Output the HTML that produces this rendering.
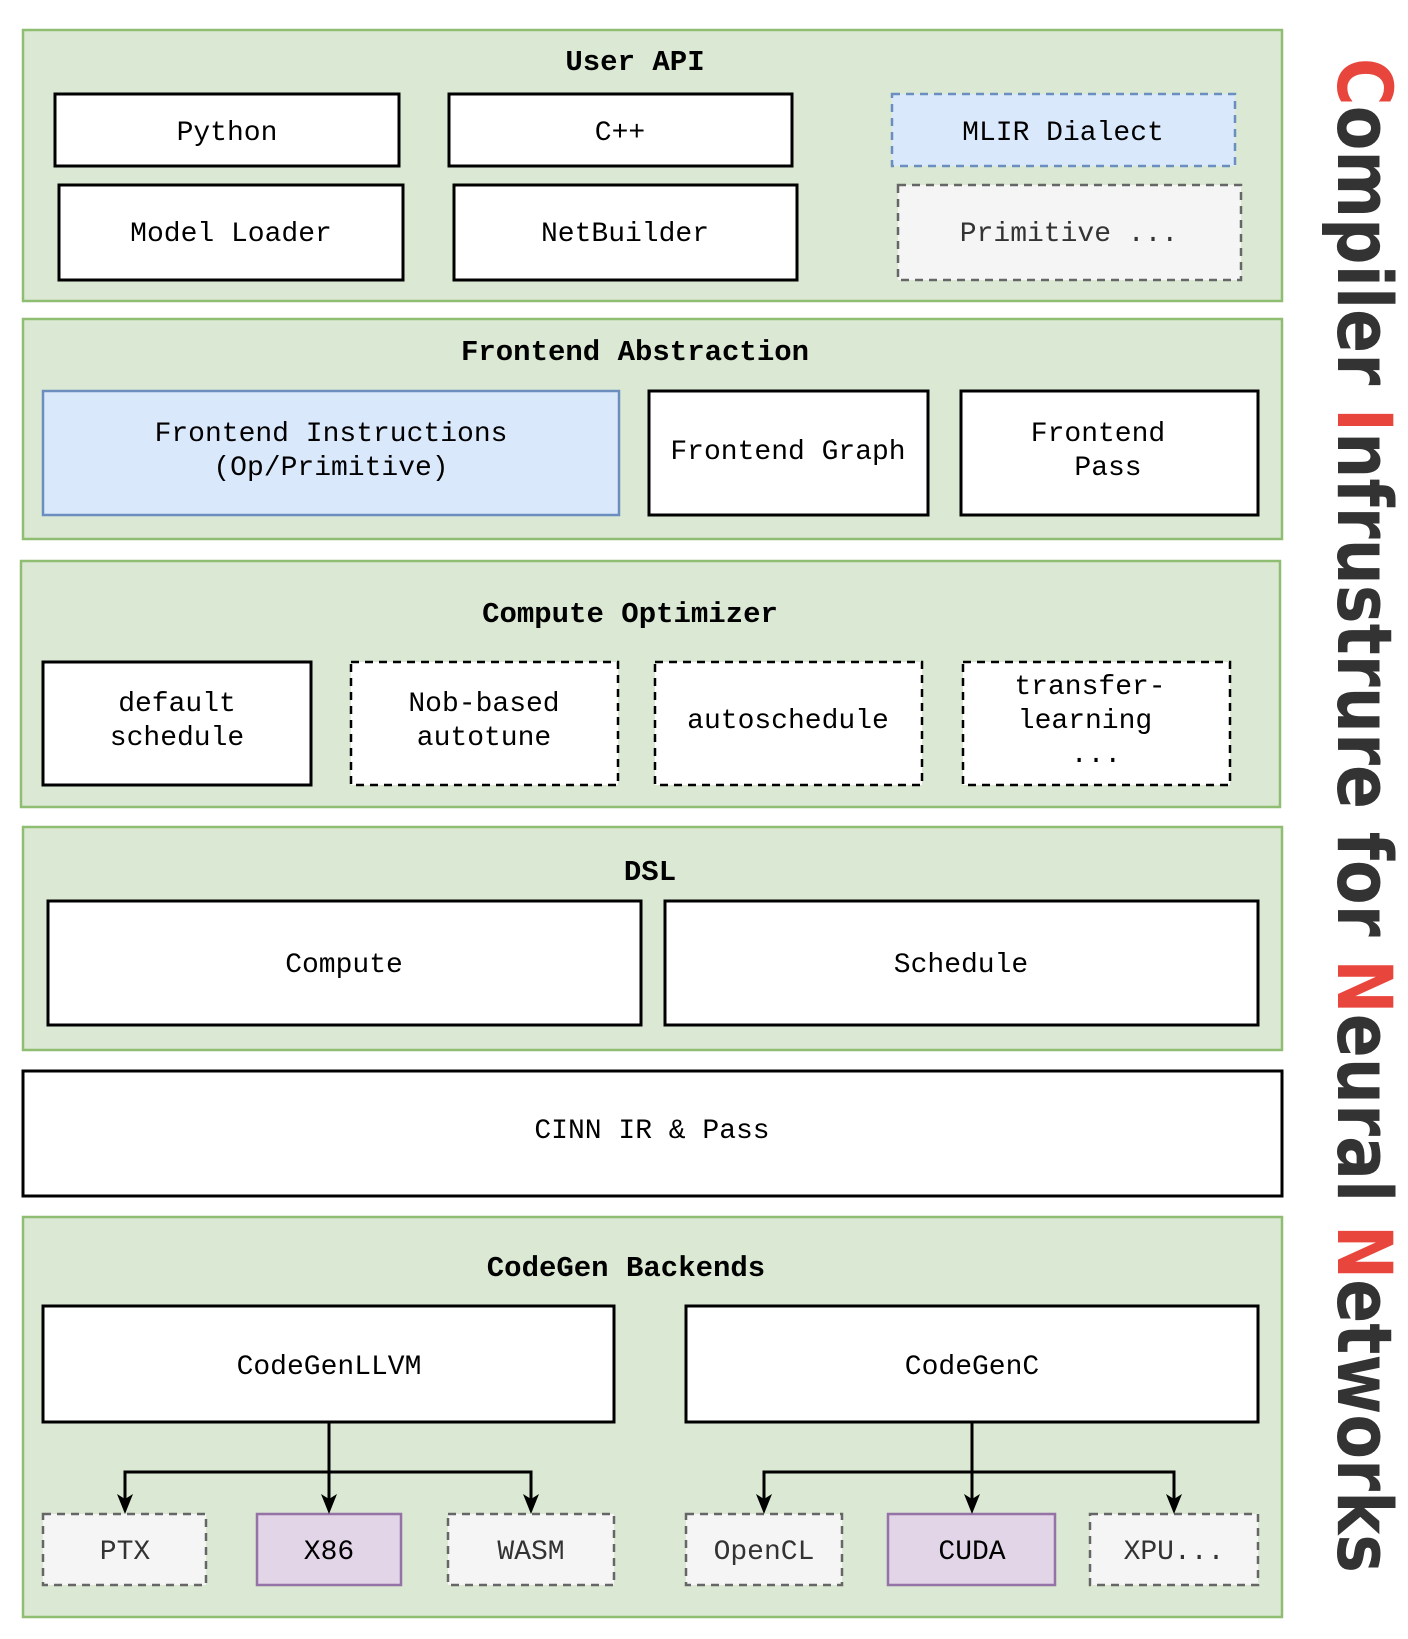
<!DOCTYPE html>
<html><head><meta charset="utf-8"><style>html,body{margin:0;padding:0;background:#fff}</style></head>
<body>
<svg width="1408" height="1634" viewBox="0 0 1408 1634" xmlns="http://www.w3.org/2000/svg" font-family="'Liberation Mono', monospace">
<g stroke-width="2.5">
<!-- panels -->
<rect x="23" y="30" width="1259" height="271" fill="#dae8d4" stroke="#8fbd72"/>
<rect x="23" y="319" width="1259" height="220" fill="#dae8d4" stroke="#8fbd72"/>
<rect x="21" y="561" width="1259" height="246" fill="#dae8d4" stroke="#8fbd72"/>
<rect x="23" y="827" width="1259" height="223" fill="#dae8d4" stroke="#8fbd72"/>
<rect x="23" y="1071" width="1259" height="125" fill="#fff" stroke="#000" stroke-width="3"/>
<rect x="23" y="1217" width="1259" height="400" fill="#dae8d4" stroke="#8fbd72"/>
<!-- user api -->
<g fill="#fff" stroke="#000" stroke-width="3">
<rect x="55" y="94" width="344" height="72"/>
<rect x="449" y="94" width="343" height="72"/>
<rect x="59" y="185" width="344" height="95"/>
<rect x="454" y="185" width="343" height="95"/>
<rect x="649" y="391" width="279" height="124"/>
<rect x="961" y="391" width="297" height="124"/>
<rect x="43" y="662" width="268" height="123"/>
<rect x="48" y="901" width="593" height="124"/>
<rect x="665" y="901" width="593" height="124"/>
<rect x="43" y="1306" width="571" height="116"/>
<rect x="686" y="1306" width="572" height="116"/>
</g>
<rect x="892" y="94" width="343" height="72" fill="#dae8fc" stroke="#6c8ebf" stroke-dasharray="8,6"/>
<rect x="898" y="185" width="343" height="95" fill="#f5f5f5" stroke="#666" stroke-dasharray="8,6"/>
<rect x="43" y="391" width="576" height="124" fill="#dae8fc" stroke="#6c8ebf"/>
<g fill="#fff" stroke="#000" stroke-dasharray="8,6">
<rect x="351" y="662" width="267" height="123"/>
<rect x="655" y="662" width="267" height="123"/>
<rect x="963" y="662" width="267" height="123"/>
</g>
<g fill="#f5f5f5" stroke="#666" stroke-dasharray="8,6">
<rect x="43" y="1514" width="163" height="71"/>
<rect x="448" y="1514" width="166" height="71"/>
<rect x="686" y="1514" width="156" height="71"/>
<rect x="1090" y="1514" width="168" height="71"/>
</g>
<rect x="257" y="1514" width="144" height="71" fill="#e1d5e7" stroke="#9673a6"/>
<rect x="888" y="1514" width="167" height="71" fill="#e1d5e7" stroke="#9673a6"/>
<!-- connectors -->
<g stroke="#000" stroke-width="3" fill="none">
<path d="M329 1422V1500M125 1500V1472H531V1500"/>
<path d="M972 1422V1500M764 1500V1472H1174V1500"/>
</g>
<g fill="#000">
<path d="M117 1494L125 1514L133 1494L125 1499Z"/>
<path d="M321 1494L329 1514L337 1494L329 1499Z"/>
<path d="M523 1494L531 1514L539 1494L531 1499Z"/>
<path d="M756 1494L764 1514L772 1494L764 1499Z"/>
<path d="M964 1494L972 1514L980 1494L972 1499Z"/>
<path d="M1166 1494L1174 1514L1182 1494L1174 1499Z"/>
</g>
</g>
<g font-size="28" text-anchor="middle" fill="#000">
<g font-weight="bold" font-size="29">
<text x="635" y="70">User API</text>
<text x="635" y="360">Frontend Abstraction</text>
<text x="630" y="622">Compute Optimizer</text>
<text x="650" y="880">DSL</text>
<text x="626" y="1276">CodeGen Backends</text>
</g>
<text x="227" y="140">Python</text>
<text x="620" y="140">C++</text>
<text x="1063" y="140">MLIR Dialect</text>
<text x="231" y="241">Model Loader</text>
<text x="625" y="241">NetBuilder</text>
<text x="1069" y="241" fill="#333">Primitive ...</text>
<text x="331" y="441">Frontend Instructions</text>
<text x="331" y="475">(Op/Primitive)</text>
<text x="788" y="459">Frontend Graph</text>
<text x="1098" y="441">Frontend</text>
<text x="1108" y="475">Pass</text>
<text x="177" y="711">default</text>
<text x="177" y="745">schedule</text>
<text x="484" y="711">Nob-based</text>
<text x="484" y="745">autotune</text>
<text x="788" y="728">autoschedule</text>
<text x="1090" y="694">transfer-</text>
<text x="1085" y="728">learning</text>
<text x="1096" y="762">...</text>
<text x="344" y="972">Compute</text>
<text x="961" y="972">Schedule</text>
<text x="652" y="1138">CINN IR &amp; Pass</text>
<text x="329" y="1374">CodeGenLLVM</text>
<text x="972" y="1374">CodeGenC</text>
<text x="125" y="1559" fill="#333">PTX</text>
<text x="329" y="1559">X86</text>
<text x="531" y="1559" fill="#333">WASM</text>
<text x="764" y="1559" fill="#333">OpenCL</text>
<text x="972" y="1559">CUDA</text>
<text x="1174" y="1559" fill="#333">XPU...</text>
</g>
<text transform="translate(1338,58) rotate(90)" font-family="'DejaVu Sans', sans-serif" font-weight="bold" font-size="76" fill="#333" textLength="1515" lengthAdjust="spacingAndGlyphs"><tspan fill="#e8453c">C</tspan>ompiler <tspan fill="#e8453c">I</tspan>nfrustrure for <tspan fill="#e8453c">N</tspan>eural <tspan fill="#e8453c">N</tspan>etworks</text>
</svg>
</body></html>
